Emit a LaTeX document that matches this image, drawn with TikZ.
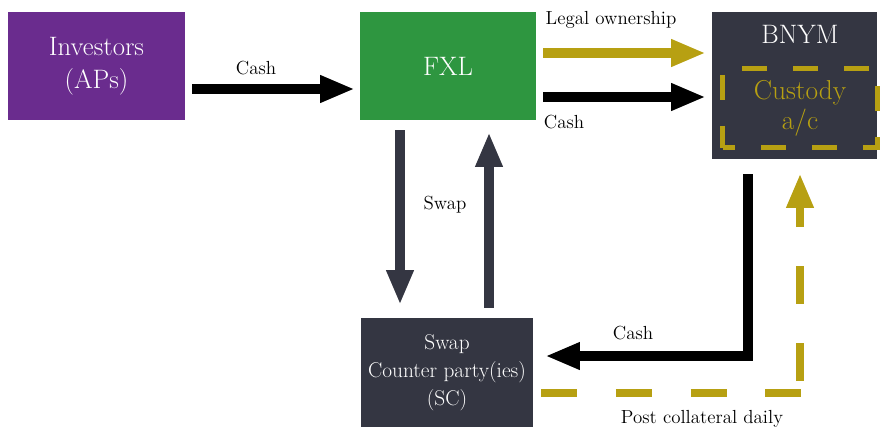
\documentclass[tikz,border=0pt]{standalone}
\usepackage{tikz}
\usetikzlibrary{arrows.meta,calc}

\definecolor{invpurple}{RGB}{106,44,142}
\definecolor{fxlgreen}{RGB}{46,150,64}
\definecolor{darkbox}{RGB}{52,54,66}
\definecolor{gold}{RGB}{183,160,18}

\begin{document}
\begin{tikzpicture}[x=0.75pt,y=-0.75pt,
  box/.style={draw=none, text=white, align=center, inner sep=0pt},
  big/.style={font=\fontsize{20}{25}\selectfont},
  flow/.style={line width=7pt, -{Triangle[length=26pt,width=19pt]}},
  lbl/.style={font=\fontsize{14.2}{16}\selectfont}]
  \useasboundingbox (0,0) rectangle (880,430);

  % boxes
  \node (inv) at (96.5, 66) [box, big, fill=invpurple, minimum width=132.75pt, minimum height=81pt] {Investors\\(APs)};
  \node (fxl) at (448, 66) [box, big, fill=fxlgreen, minimum width=132pt, minimum height=81pt] {FXL};
  \node (bnym) at (794.5, 85.5) [box, fill=darkbox, minimum width=123.75pt, minimum height=110.25pt] {};
  \node (sc) at (447, 372.5) [box, fill=darkbox, minimum width=129pt, minimum height=81.75pt,
    font=\fontsize{16}{21}\selectfont] {Swap\\Counter party(ies)\\(SC)};

  \node (bnymlbl) at (800, 34) [box, big] {BNYM};
  \node (cust) at (800, 108) [draw=gold, line width=3.5pt, dash pattern=on 18.75pt off 19.5pt, dash phase=9.4pt,
    text=gold, align=center, font=\fontsize{20.5}{22.5}\selectfont,
    minimum width=116.25pt, minimum height=59.25pt] {Custody\\a/c};

  % connectors
  \draw[flow] ($(inv.east)+(7,23)$) -- ($(fxl.west)+(-5,23)$);
  \draw[flow, gold] ($(fxl.east)+(7,-13)$) -- ($(bnym.west)+(-6,-32.5)$);
  \draw[flow] ($(fxl.east)+(7,31)$) -- ($(bnym.west)+(-6,11.5)$);
  \draw[flow, darkbox] ($(fxl.south)+(-48,10)$) -- ($(sc.north)+(-47,-13)$);
  \draw[flow, darkbox] ($(sc.north)+(42,-10)$) -- ($(fxl.south)+(41,12)$);
  \draw[flow] ($(bnym.south)+(-46.5,15)$) |- ($(sc.east)+(12,-16.5)$);

  \coordinate (cc) at ($(bnym.south |- sc.east)+(5.5,20.5)$);
  \draw[gold, line width=6.5pt, dash pattern=on 27pt off 29pt] ($(sc.east)+(8,20.5)$) -- ($(cc)+(4,0)$);
  \draw[flow, gold, line width=6.5pt, dash pattern=on 28.5pt off 29.25pt, dash phase=48.75pt] (cc) -- ($(bnym.south)+(5.5,14)$);

  % labels
  \node (l1) at (256, 68) [lbl] {Cash};
  \node (l2) at (611, 20) [lbl] {Legal ownership};
  \node (l3) at (564, 122) [lbl] {Cash};
  \node (l4) at (445, 205) [lbl] {Swap};
  \node (l5) at (633, 333) [lbl] {Cash};
  \node (l6) at (702, 419) [lbl] {Post collateral daily};
\end{tikzpicture}
\end{document}
